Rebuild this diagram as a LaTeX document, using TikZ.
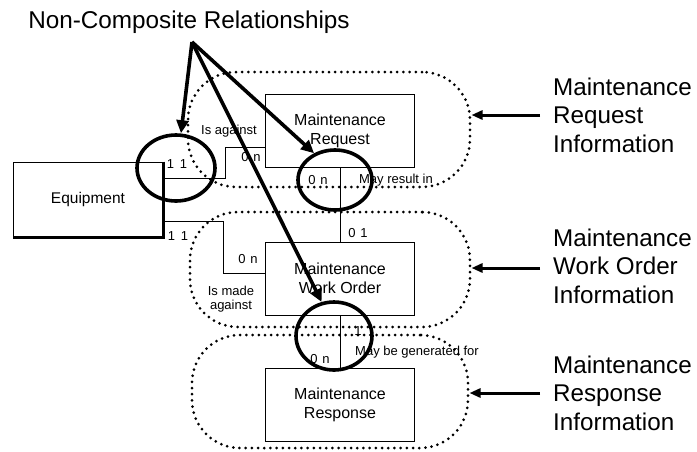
\documentclass[tikz,border=0pt]{standalone}
\usepackage{fontspec}
\setmainfont{Liberation Sans}
\usetikzlibrary{arrows.meta,shapes.geometric}
\begin{document}
\begin{tikzpicture}[x=1pt,y=-1pt,
  ebox/.style={draw,line width=0.8pt,minimum width=149pt,minimum height=73pt,align=center,font=\fontsize{16}{19}\selectfont,inner sep=0pt},
  region/.style={draw,line width=3pt,dash pattern=on 0pt off 6.2pt,line cap=round,rounded corners=48pt,inner sep=0pt},
  conn/.style={line width=0.8pt},
  ring/.style={draw,ellipse,line width=3.6pt,inner sep=0pt},
  thickarr/.style={line width=3.6pt,-{Triangle[length=13pt,width=12pt]}},
  sidearr/.style={line width=3pt,-{Triangle[length=11pt,width=9pt]}},
  lbl/.style={font=\fontsize{13}{14.5}\selectfont,inner sep=0pt},
  info/.style={font=\fontsize{24.2}{28.5}\selectfont,align=left,anchor=west,inner sep=0pt}
]
\useasboundingbox (0,0) rectangle (697,451);
\fill[white] (0,0) rectangle (697,451);

% dotted regions
\node[region,minimum width=282pt,minimum height=115pt] (r1) at (329,129.5) {};
\node[region,minimum width=280pt,minimum height=115pt] (r2) at (330,269.5) {};
\node[region,minimum width=276pt,minimum height=113pt] (r3) at (330,391.5) {};

% entity boxes
\node[ebox] (req) at (340,131) {Maintenance\\Request};
\node[ebox] (wo) at (340,278.5) {Maintenance\\Work Order};
\node[ebox] (resp) at (340,404.5) {Maintenance\\Response};
\node[draw,line width=0.8pt,minimum width=150pt,minimum height=75pt,inner sep=0pt,font=\fontsize{15.5}{18}\selectfont] (eq) at (88,199.5) {Equipment};
\draw[line width=2.6pt] (eq.north east) -- (eq.south east) -- (eq.south west);

% connectors
\coordinate (k1) at (225,178);
\coordinate (k2) at (223,221);
\draw[conn] (eq.east |- k1) -- (k1) |- (req.west |- 0,147);
\draw[conn] (eq.east |- k2) -- (k2) |- (wo.west |- 0,273);
\draw[conn] (req.south) -- (wo.north);
\draw[conn] (wo.south) -- (resp.north);

% cardinalities and roles
\node[lbl] (c11a) at (177,164) {1\hspace{6pt}1};
\node[lbl] (c0na) at (251,157) {0\hspace{5pt}n};
\node[lbl] (isag) at (229,131) {Is against};
\node[lbl] (c0nb) at (318,180) {0\hspace{5pt}n};
\node[lbl] (mayr) at (396,180) {May result in};
\node[lbl] (c01) at (358,233) {0\hspace{5pt}1};
\node[lbl] (c11b) at (178,236) {1\hspace{6pt}1};
\node[lbl] (c0nc) at (248,259) {0\hspace{5pt}n};
\node[lbl,align=center] (ismade) at (231,299) {Is made\\against};
\node[lbl] (c1d) at (358,331) {1};
\node[lbl] (c0nd) at (320,359) {0\hspace{5pt}n};
\node[lbl] (mayg) at (417,352) {May be generated for};

% rings
\node[ring,minimum width=78pt,minimum height=66pt] (ring1) at (176,168) {};
\node[ring,minimum width=74pt,minimum height=60pt] (ring2) at (335,180) {};
\node[ring,minimum width=76pt,minimum height=68pt] (ring3) at (334,336) {};

% heading and thick arrows
\node[font=\fontsize{24.3}{28}\selectfont,inner sep=0pt] (head) at (189,22) {Non-Composite Relationships};
\coordinate (apex) at (192,42);
\draw[thickarr] (apex) -- ([xshift=5pt]ring1.north);
\draw[thickarr] (apex) -- (ring2.128);
\draw[thickarr] (apex) -- (ring3.110);

% right labels
\node[info] (l1) at (553,115) {Maintenance\\Request\\Information};
\node[info] (l2) at (553,266) {Maintenance\\Work Order\\Information};
\node[info] (l3) at (553,393) {Maintenance\\Response\\Information};
\coordinate (a1) at (540,115);
\coordinate (a2) at (540,268);
\coordinate (a3) at (540,393);
\draw[sidearr] (a1) -- (r1.east |- a1);
\draw[sidearr] (a2) -- (r2.east |- a2);
\draw[sidearr] (a3) -- (r3.east |- a3);
\end{tikzpicture}
\end{document}
